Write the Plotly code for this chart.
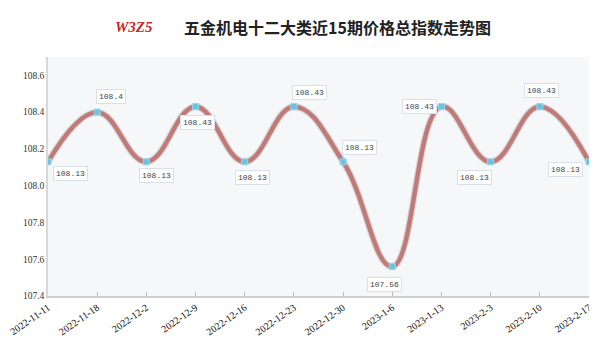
import plotly.graph_objects as go

dates = ["2022-11-11", "2022-11-18", "2022-12-2", "2022-12-9", "2022-12-16", "2022-12-23",
         "2022-12-30", "2023-1-6", "2023-1-13", "2023-2-3", "2023-2-10", "2023-2-17"]
values = [108.13, 108.4, 108.13, 108.43, 108.13, 108.43, 108.13, 107.56, 108.43, 108.13, 108.43, 108.13]
label_text = ["108.13", "108.4", "108.13", "108.43", "108.13", "108.43", "108.13", "107.56",
              "108.43", "108.13", "108.43", "108.13"]
# label offsets (px) relative to each point
offsets = [(22, 12), (14, -16), (10, 14), (2, 16), (8, 16), (16, -14), (16, -14), (-8, 18),
           (-22, 0), (-16, 16), (2, -16), (-24, 8)]

fig = go.Figure()
# soft shadow under the line
fig.add_trace(go.Scatter(x=dates, y=values, mode="lines",
                         line=dict(shape="spline", smoothing=1.2, width=7, color="rgba(120,120,120,0.22)"),
                         hoverinfo="skip", showlegend=False))
fig.add_trace(go.Scatter(x=dates, y=values, mode="lines+markers",
                         line=dict(shape="spline", smoothing=1.2, width=4.5, color="#c07b79"),
                         marker=dict(symbol="square", size=6, color="#6cc2dc",
                                     line=dict(width=1, color="#9ad6ea")),
                         showlegend=False))

for d, v, t, (ax, ay) in zip(dates, values, label_text, offsets):
    fig.add_annotation(x=d, y=v, text=t, showarrow=False, xshift=ax, yshift=-ay,
                       font=dict(family="Liberation Mono, monospace", size=8, color="#444"),
                       bgcolor="white", bordercolor="#d8e0ea", borderwidth=1, borderpad=2)

# title and logo
fig.add_annotation(xref="paper", yref="paper", x=0.535, y=1.0, yshift=44, showarrow=False,
                   text="<b>五金机电十二大类近15期价格总指数走势图</b>",
                   font=dict(family="Noto Sans CJK SC", size=16, color="#222"))
fig.add_annotation(xref="paper", yref="paper", x=0.12, y=1.0, yshift=40, showarrow=False,
                   text="<b><i>W3Z5</i></b>",
                   font=dict(family="Liberation Serif", size=15, color="#c8262a"))

fig.update_layout(
    width=599, height=350,
    margin=dict(l=48, r=6, t=57, b=54),
    paper_bgcolor="white",
    plot_bgcolor="#f5f7f9",
    xaxis=dict(type="category", range=[0, 11], showgrid=False, zeroline=False,
               showline=True, linecolor="#cfcfcf", linewidth=2,
               ticks="inside", ticklen=4, tickcolor="#bbbbbb",
               tickangle=-35,
               tickfont=dict(family="Liberation Serif", size=10, color="#111")),
    yaxis=dict(range=[107.4, 108.7], dtick=0.2, tickformat=".1f", showgrid=False, zeroline=False,
               showline=True, linecolor="#d8d8d8", linewidth=1.5,
               tickfont=dict(family="Liberation Serif", size=9.5, color="#333")),
)

fig.write_html("out.html")
